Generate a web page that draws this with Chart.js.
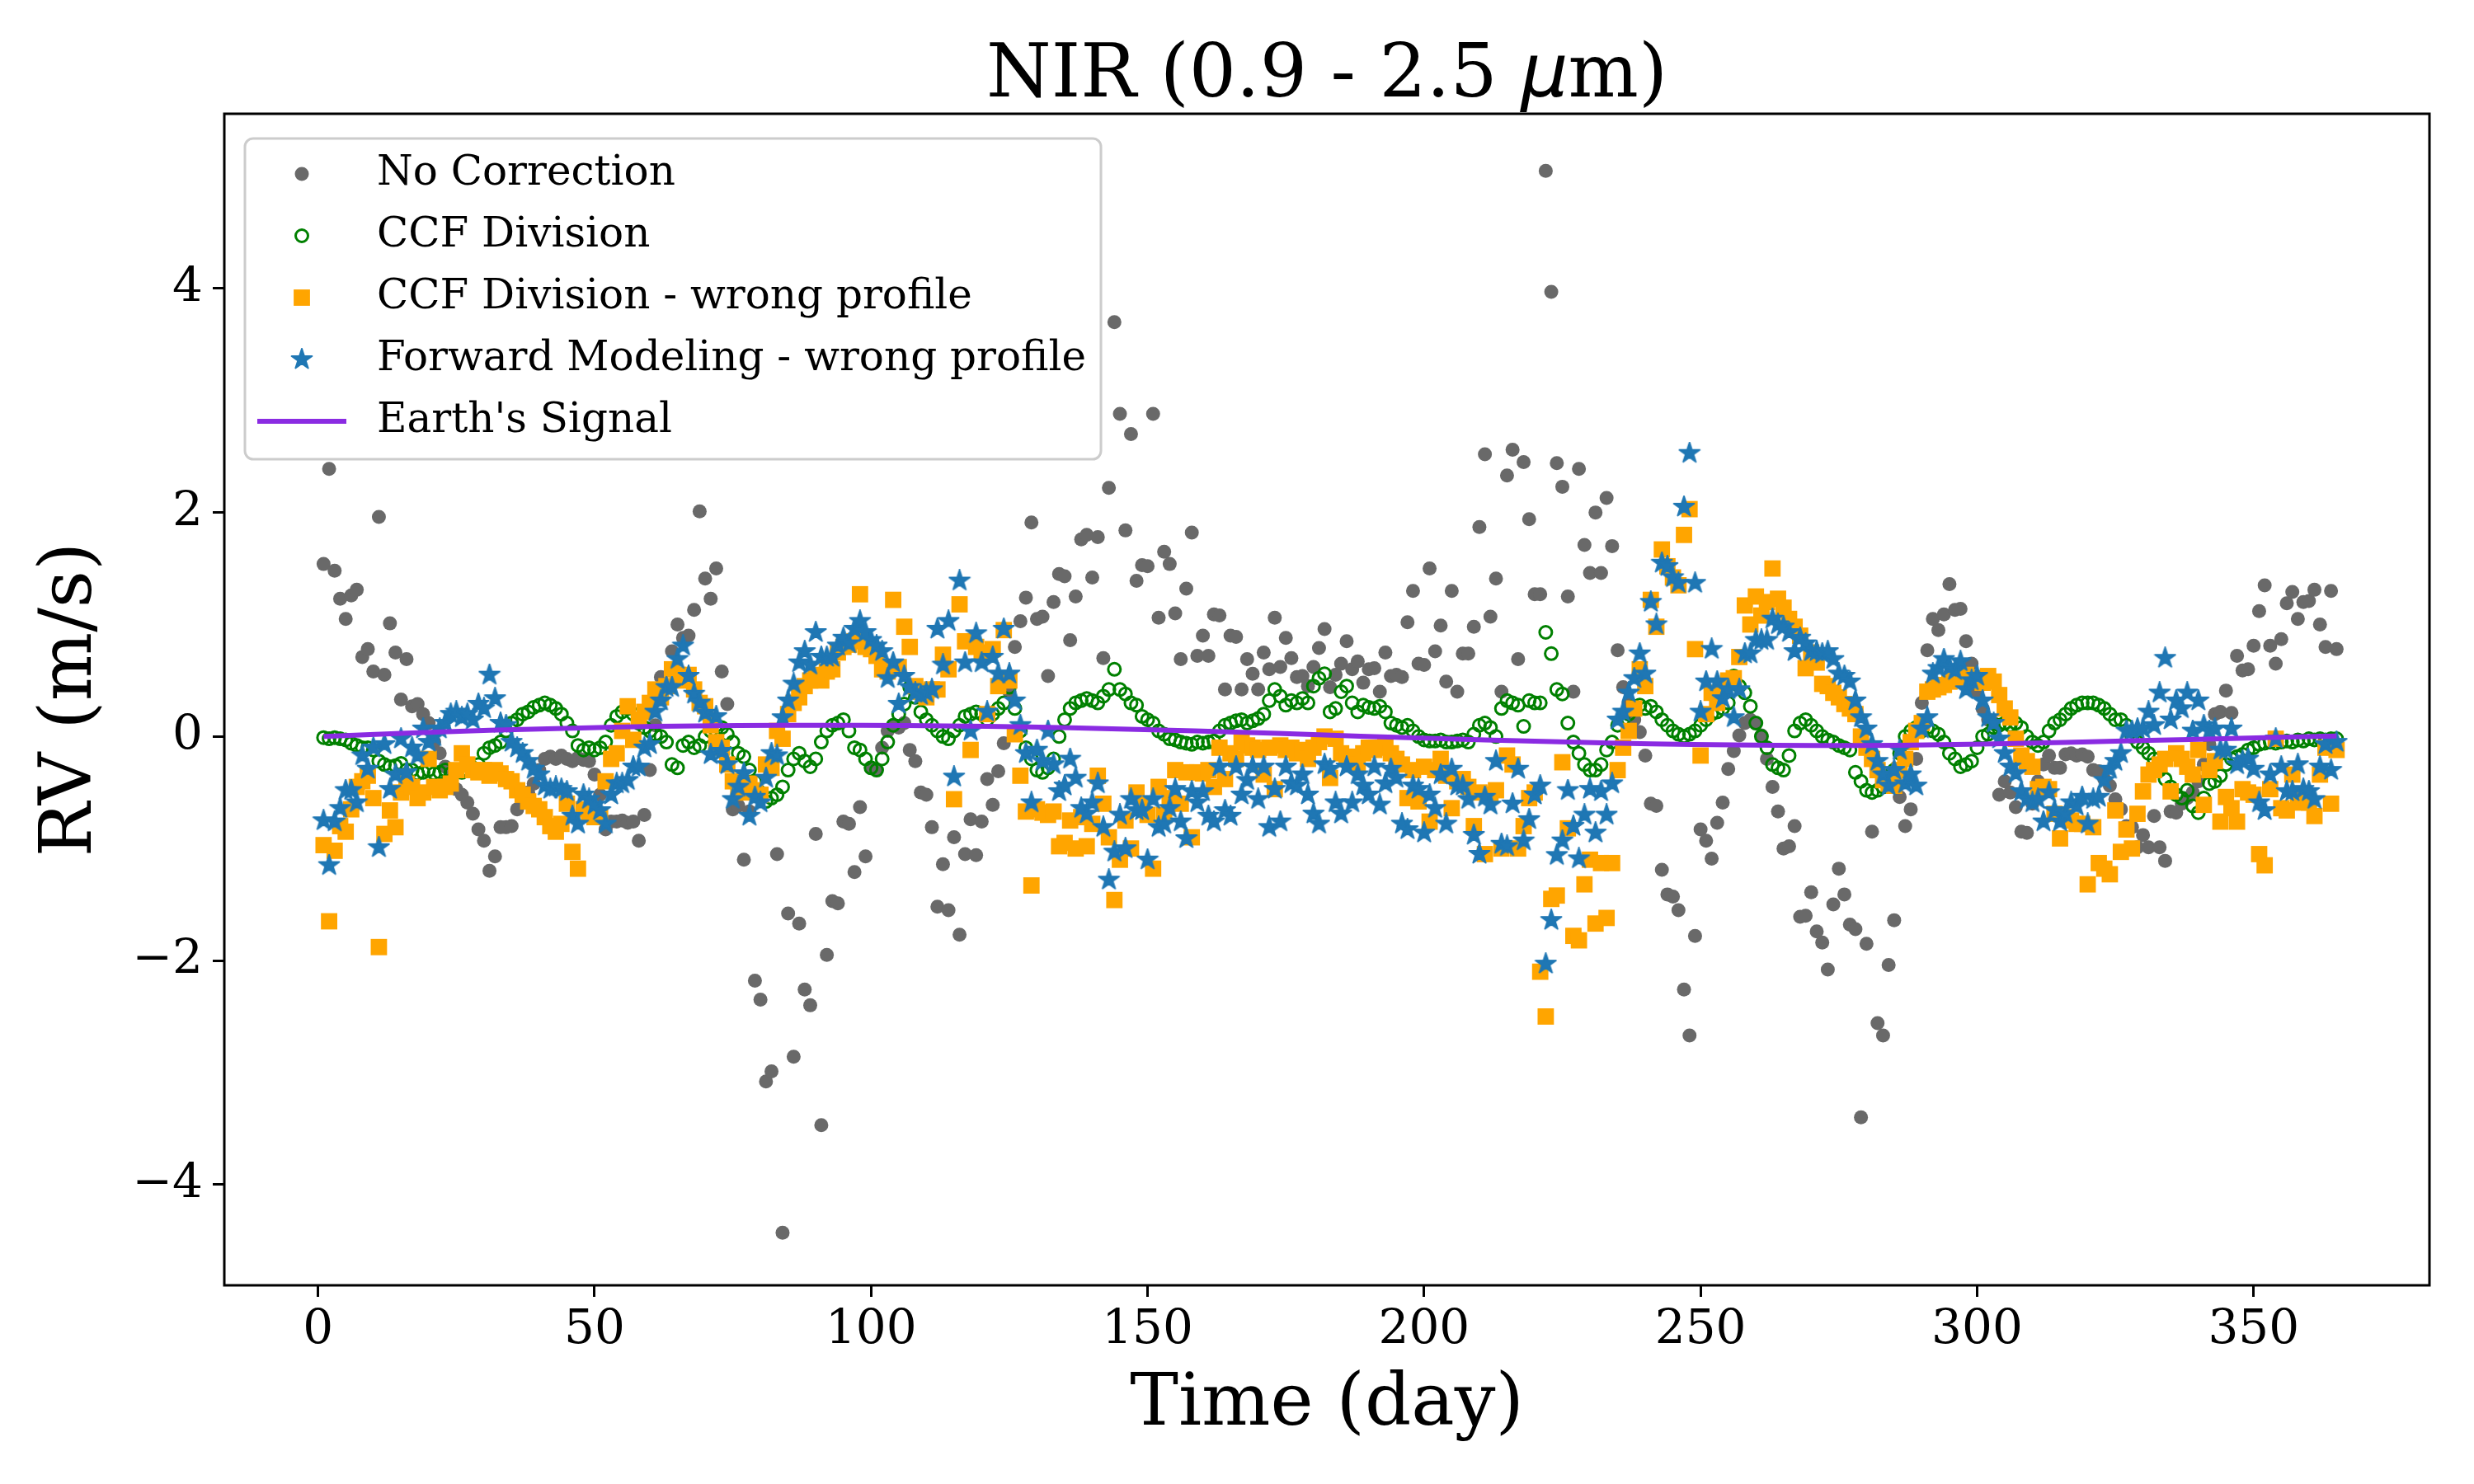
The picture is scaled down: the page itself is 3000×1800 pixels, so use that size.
<!DOCTYPE html>
<html>
<head>
<meta charset="utf-8">
<script src="https://cdn.jsdelivr.net/npm/chart.js@4.4.1/dist/chart.umd.min.js"></script>
<style>
  html, body { margin: 0; padding: 0; background: #fff; }
  #wrap { width: 3000px; height: 1800px; }
</style>
</head>
<body>
<div id="wrap"><canvas id="rv" width="3000" height="1800"></canvas></div>
<script>
// one value per day, starting at day 1 (m/s)
const noCorrection = [
  1.54, 2.39, 1.48, 1.23, 1.05, 1.26, 1.31, 0.71, 0.78, 0.58,
  1.96, 0.55, 1.01, 0.75, 0.33, 0.69, 0.27, 0.29, 0.20, 0.12,
  -0.05, -0.15, -0.27, -0.35, -0.47, -0.52, -0.59, -0.69, -0.83, -0.93,
  -1.20, -1.07, -0.81, -0.81, -0.80, -0.65, -0.58, -0.50, -0.42, -0.30,
  -0.20, -0.18, -0.20, -0.17, -0.20, -0.22, -0.19, -0.21, -0.22, -0.34,
  -0.52, -0.83, -0.76, -0.76, -0.75, -0.77, -0.76, -0.93, -0.70, -0.30,
  0.10, 0.53, 0.45, 0.76, 1.00, 0.88, 0.90, 1.13, 2.01, 1.41,
  1.23, 1.50, 0.58, 0.29, -0.65, -0.62, -1.10, -0.67, -2.18, -2.35,
  -3.08, -2.99, -1.05, -4.43, -1.58, -2.86, -1.67, -2.26, -2.40, -0.87,
  -3.47, -1.95, -1.47, -1.49, -0.76, -0.78, -1.21, -0.63, -1.07, -0.28,
  -0.30, -0.10, 0.05, 0.10, 0.08, 0.12, -0.12, -0.22, -0.50, -0.52,
  -0.81, -1.52, -1.14, -1.55, -0.90, -1.77, -1.05, -0.74, -1.06, -0.76,
  -0.38, -0.61, -0.31, -0.06, 0.40, 0.80, 1.03, 1.24, 1.91, 1.05,
  1.07, 0.54, 1.20, 1.45, 1.43, 0.86, 1.25, 1.76, 1.80, 1.42,
  1.78, 0.70, 2.22, 3.70, 2.88, 1.84, 2.70, 1.39, 1.53, 1.52,
  2.88, 1.06, 1.65, 1.54, 1.10, 0.69, 1.32, 1.82, 0.72, 0.90,
  0.72, 1.09, 1.08, 0.42, 0.90, 0.89, 0.42, 0.69, 0.56, 0.42,
  0.75, 0.60, 1.06, 0.62, 0.88, 0.70, 0.53, 0.54, 0.45, 0.62,
  0.79, 0.96, 0.44, 0.55, 0.65, 0.85, 0.60, 0.67, 0.48, 0.60,
  0.61, 0.40, 0.75, 0.54, 0.55, 0.53, 1.02, 1.30, 0.65, 0.64,
  1.50, 0.76, 0.99, 0.49, 1.30, 0.40, 0.74, 0.74, 0.98, 1.87,
  2.52, 1.07, 1.41, 0.40, 2.33, 2.56, 0.69, 2.45, 1.94, 1.27,
  1.27, 5.05, 3.97, 2.44, 2.23, 1.25, 0.40, 2.39, 1.71, 1.46,
  2.00, 1.46, 2.13, 1.70, 0.77, 0.44, 0.30, 0.15, 0.04, -0.17,
  -0.60, -0.62, -1.19, -1.41, -1.43, -1.55, -2.26, -2.67, -1.78, -0.83,
  -0.93, -1.09, -0.77, -0.59, -0.29, -0.13, 0.01, 0.12, 0.15, 0.12,
  0.01, -0.20, -0.45, -0.67, -1.00, -0.98, -0.80, -1.61, -1.60, -1.39,
  -1.74, -1.84, -2.08, -1.50, -1.18, -1.41, -1.68, -1.72, -3.40, -1.85,
  -0.85, -2.56, -2.67, -2.04, -1.64, -0.54, -0.80, -0.65, -0.20, 0.30,
  0.77, 1.05, 0.95, 1.09, 1.36, 1.13, 1.14, 0.85, 0.65, 0.40,
  0.25, 0.15, 0.12, -0.52, -0.40, -0.50, -0.63, -0.85, -0.86, -0.60,
  -0.40, -0.25, -0.17, -0.28, -0.28, -0.16, -0.15, -0.17, -0.16, -0.18,
  -0.30, -0.31, -0.38, -0.44, -0.56, -0.65, -0.80, -0.81, -0.99, -0.88,
  -0.99, -0.71, -0.99, -1.11, -0.67, -0.68, -0.60, -0.55, -0.50, -0.40,
  -0.25, -0.07, 0.20, 0.22, 0.41, 0.21, 0.72, 0.59, 0.60, 0.81,
  1.12, 1.35, 0.81, 0.65, 0.87, 1.19, 1.29, 1.05, 1.20, 1.21,
  1.31, 1.00, 0.80, 1.30, 0.78
];

const ccfDivision = [
  -0.01, -0.02, -0.01, -0.02, -0.03, -0.06, -0.08, -0.10, -0.10, -0.12,
  -0.22, -0.25, -0.27, -0.26, -0.24, -0.30, -0.30, -0.33, -0.32, -0.30,
  -0.33, -0.32, -0.30, -0.33, -0.30, -0.32, -0.30, -0.28, -0.25, -0.15,
  -0.10, -0.08, -0.05, 0.05, 0.12, 0.15, 0.20, 0.22, 0.26, 0.28,
  0.30, 0.28, 0.25, 0.20, 0.12, 0.05, -0.08, -0.12, -0.10, -0.12,
  -0.10, -0.05, 0.10, 0.18, 0.22, 0.25, 0.20, 0.12, 0.08, 0.05,
  0.02, 0.00, -0.05, -0.25, -0.28, -0.08, -0.05, -0.10, -0.08, 0.00,
  0.05, 0.10, 0.08, 0.02, -0.05, -0.15, -0.18, -0.30, -0.40, -0.50,
  -0.58, -0.55, -0.52, -0.45, -0.30, -0.20, -0.15, -0.22, -0.27, -0.20,
  -0.05, 0.05, 0.10, 0.12, 0.15, 0.05, -0.10, -0.12, -0.20, -0.28,
  -0.30, -0.20, -0.05, 0.10, 0.20, 0.29, 0.44, 0.35, 0.22, 0.15,
  0.10, 0.05, 0.00, -0.02, 0.05, 0.10, 0.18, 0.20, 0.22, 0.20,
  0.15, 0.20, 0.25, 0.30, 0.44, 0.25, 0.05, -0.10, -0.20, -0.30,
  -0.32, -0.28, -0.20, 0.00, 0.15, 0.25, 0.30, 0.32, 0.34, 0.32,
  0.30, 0.36, 0.42, 0.60, 0.42, 0.38, 0.30, 0.28, 0.18, 0.15,
  0.12, 0.05, 0.02, -0.02, -0.03, -0.05, -0.06, -0.07, -0.05, -0.06,
  -0.05, -0.04, 0.05, 0.10, 0.12, 0.14, 0.15, 0.12, 0.14, 0.16,
  0.20, 0.32, 0.42, 0.36, 0.28, 0.32, 0.30, 0.34, 0.30, 0.45,
  0.52, 0.56, 0.22, 0.25, 0.40, 0.45, 0.30, 0.22, 0.28, 0.26,
  0.25, 0.27, 0.22, 0.12, 0.10, 0.08, 0.10, 0.05, 0.00, -0.03,
  -0.04, -0.04, -0.03, -0.05, -0.05, -0.04, -0.03, -0.05, 0.02, 0.10,
  0.12, 0.08, 0.00, 0.25, 0.32, 0.30, 0.28, 0.09, 0.32, 0.30,
  0.30, 0.93, 0.74, 0.42, 0.38, 0.12, -0.05, -0.15, -0.25, -0.30,
  -0.30, -0.25, -0.12, -0.05, 0.10, 0.15, 0.20, 0.27, 0.28, 0.25,
  0.27, 0.22, 0.15, 0.10, 0.05, 0.02, 0.00, 0.02, 0.05, 0.10,
  0.15, 0.20, 0.22, 0.25, 0.30, 0.54, 0.45, 0.39, 0.27, 0.12,
  0.00, -0.10, -0.25, -0.28, -0.30, -0.17, 0.05, 0.12, 0.15, 0.10,
  0.05, 0.00, -0.03, -0.05, -0.08, -0.10, -0.12, -0.32, -0.40, -0.48,
  -0.50, -0.48, -0.45, -0.35, -0.30, -0.15, 0.00, 0.05, 0.08, 0.05,
  0.08, 0.05, 0.02, -0.05, -0.15, -0.20, -0.27, -0.25, -0.22, -0.10,
  0.00, 0.02, 0.08, 0.10, 0.12, 0.10, 0.12, 0.08, 0.00, -0.05,
  -0.08, -0.05, 0.05, 0.12, 0.15, 0.20, 0.25, 0.28, 0.30, 0.30,
  0.30, 0.28, 0.25, 0.20, 0.15, 0.15, 0.10, 0.00, -0.05, -0.10,
  -0.15, -0.20, -0.30, -0.38, -0.45, -0.52, -0.55, -0.48, -0.62, -0.68,
  -0.55, -0.42, -0.40, -0.35, -0.25, -0.20, -0.18, -0.16, -0.12, -0.10,
  -0.07, -0.06, -0.05, -0.06, -0.05, -0.04, -0.05, -0.03, -0.04, -0.02,
  -0.03, -0.02, -0.03, -0.02, -0.02
];

const ccfWrongProfile = [
  -0.97, -1.65, -1.02, -0.80, -0.85, -0.65, -0.45, -0.40, -0.35, -0.55,
  -1.88, -0.87, -0.66, -0.81, -0.50, -0.42, -0.45, -0.55, -0.50, -0.20,
  -0.45, -0.48, -0.45, -0.42, -0.30, -0.15, -0.25, -0.30, -0.32, -0.30,
  -0.35, -0.30, -0.33, -0.38, -0.40, -0.48, -0.52, -0.58, -0.62, -0.65,
  -0.72, -0.80, -0.85, -0.78, -0.60, -1.03, -1.18, -0.65, -0.68, -0.72,
  -0.70, -0.40, -0.20, -0.15, 0.05, 0.27, -0.03, 0.15, 0.22, 0.30,
  0.42, 0.35, 0.45, 0.60, 0.55, 0.50, 0.55, 0.42, 0.30, 0.27,
  0.10, -0.05, -0.10, -0.25, -0.40, -0.45, -0.50, -0.42, -0.48, -0.52,
  -0.25, -0.28, 0.05, -0.02, 0.20, 0.30, 0.35, 0.45, 0.50, 0.55,
  0.50, 0.58, 0.60, 0.75, 0.80, 0.82, 0.85, 1.27, 0.80, 0.78,
  0.72, 0.60, 0.58, 1.22, 0.62, 0.98, 0.80, 0.45, 0.40, 0.35,
  0.42, 0.42, 0.73, 0.60, -0.56, 1.18, 0.85, -0.12, 0.80, 0.75,
  0.20, 0.78, 0.45, 0.95, 0.50, 0.02, -0.35, -0.67, -1.33, -0.65,
  -0.68, -0.70, -0.67, -0.98, -0.95, -0.75, -1.00, -0.72, -0.98, -0.78,
  -0.35, -0.60, -0.90, -1.46, -1.10, -0.75, -1.00, -0.50, -0.60, -0.70,
  -1.18, -0.45, -0.70, -0.55, -0.30, -0.60, -0.32, -0.90, -0.32, -0.33,
  -0.30, -0.45, -0.10, -0.38, -0.15, -0.20, -0.05, -0.08, -0.10, -0.12,
  -0.34, -0.10, -0.47, -0.08, -0.12, -0.10, -0.15, -0.12, -0.20, -0.10,
  -0.05, 0.00, -0.37, -0.02, -0.15, -0.20, -0.18, -0.25, -0.15, -0.10,
  -0.12, -0.10, -0.08, -0.15, -0.20, -0.25, -0.55, -0.30, -0.58, -0.27,
  -0.76, -0.30, -0.20, -0.35, -0.64, -0.40, -0.38, -0.45, -0.80, -0.50,
  -1.05, -0.52, -0.48, -1.00, -0.17, -0.25, -1.00, -0.80, -0.55, -0.50,
  -2.10, -2.50, -1.45, -1.42, -0.23, -0.82, -1.78, -1.82, -1.32, -1.10,
  -1.67, -1.13, -1.62, -1.13, -0.30, -0.10, 0.05, 0.25, 0.60, 0.45,
  1.22, 0.98, 1.67, 1.52, 1.42, 1.35, 1.80, 2.03, 0.78, -0.17,
  0.20, 0.39, 0.30, 0.45, 0.50, 0.52, 0.71, 1.17, 1.00, 1.25,
  1.08, 1.20, 1.50, 1.23, 1.15, 1.05, 0.98, 0.90, 0.61, 0.75,
  0.66, 0.47, 0.45, 0.39, 0.35, 0.29, 0.25, 0.20, 0.00, -0.10,
  -0.20, -0.30, -0.39, -0.42, -0.44, -0.30, -0.20, -0.05, 0.05, 0.12,
  0.40, 0.42, 0.44, 0.46, 0.49, 0.50, 0.52, 0.55, 0.50, 0.52,
  0.48, 0.54, 0.49, 0.37, 0.25, 0.17, -0.02, -0.17, -0.22, -0.27,
  -0.47, -0.45, -0.47, -0.69, -0.91, -0.72, -0.75, -0.78, -0.78, -1.32,
  -0.81, -1.13, -1.18, -1.23, -0.66, -1.03, -0.83, -1.00, -0.69, -0.49,
  -0.34, -0.30, -0.25, -0.20, -0.49, -0.15, -0.20, -0.27, -0.34, -0.12,
  -0.61, -0.30, -0.22, -0.76, -0.54, -0.64, -0.76, -0.47, -0.50, -0.52,
  -1.05, -1.15, -0.47, -0.02, -0.64, -0.66, -0.34, -0.59, -0.55, -0.59,
  -0.71, -0.34, -0.10, -0.60, -0.12
];

const fmWrongProfile = [
  -0.75, -1.15, -0.76, -0.64, -0.48, -0.48, -0.59, -0.17, -0.29, -0.10,
  -0.99, -0.07, -0.47, -0.34, -0.02, -0.32, -0.10, -0.17, 0.07, -0.05,
  0.00, 0.07, 0.12, 0.20, 0.22, 0.17, 0.20, 0.15, 0.29, 0.25,
  0.55, 0.34, 0.12, 0.10, -0.05, -0.10, -0.15, -0.22, -0.29, -0.34,
  -0.44, -0.47, -0.45, -0.47, -0.49, -0.71, -0.78, -0.52, -0.56, -0.61,
  -0.66, -0.78, -0.52, -0.42, -0.42, -0.39, -0.27, -0.27, -0.10, -0.07,
  0.22, 0.32, 0.44, 0.44, 0.69, 0.81, 0.54, 0.38, 0.30, 0.21,
  -0.16, 0.18, -0.13, -0.25, -0.56, -0.45, -0.33, -0.71, -0.54, -0.59,
  -0.37, -0.15, -0.17, 0.17, 0.32, 0.47, 0.66, 0.76, 0.64, 0.93,
  0.71, 0.71, 0.71, 0.81, 0.88, 0.83, 0.96, 1.03, 0.93, 0.86,
  0.81, 0.76, 0.52, 0.66, 0.29, 0.54, 0.44, 0.39, 0.37, 0.39,
  0.42, 0.96, 0.64, 1.03, -0.36, 1.39, 0.66, 0.05, 0.92, 0.66,
  0.22, 0.71, 0.56, 0.96, 0.56, 0.32, 0.10, -0.15, -0.59, -0.12,
  -0.22, 0.05, -0.25, -0.49, -0.44, -0.20, -0.37, -0.64, -0.69, -0.59,
  -0.42, -0.81, -1.28, -1.03, -0.70, -1.00, -0.56, -0.66, -0.66, -1.10,
  -0.56, -0.81, -0.78, -0.64, -0.47, -0.76, -0.91, -0.49, -0.59, -0.49,
  -0.71, -0.76, -0.27, -0.66, -0.71, -0.27, -0.52, -0.39, -0.27, -0.56,
  -0.27, -0.81, -0.47, -0.76, -0.27, -0.42, -0.44, -0.34, -0.52, -0.69,
  -0.78, -0.25, -0.29, -0.59, -0.69, -0.27, -0.59, -0.34, -0.44, -0.52,
  -0.27, -0.61, -0.42, -0.29, -0.37, -0.78, -0.83, -0.44, -0.47, -0.86,
  -0.52, -0.64, -0.34, -0.78, -0.29, -0.44, -0.44, -0.56, -0.88, -1.05,
  -0.54, -0.61, -0.22, -0.96, -0.98, -0.60, -0.29, -0.93, -0.74, -0.52,
  -0.44, -2.03, -1.64, -1.06, -0.93, -0.48, -0.80, -1.09, -0.70, -0.47,
  -0.86, -0.49, -0.70, -0.42, 0.15, 0.22, 0.39, 0.52, 0.74, 0.56,
  1.20, 1.00, 1.55, 1.52, 1.42, 1.37, 2.05, 2.53, 1.37, 0.22,
  0.49, 0.78, 0.49, 0.34, 0.42, 0.17, 0.42, 0.74, 0.74, 0.86,
  0.86, 0.86, 1.05, 1.00, 0.98, 0.93, 0.76, 0.88, 0.83, 0.76,
  0.76, 0.74, 0.76, 0.69, 0.56, 0.54, 0.49, 0.32, 0.17, 0.07,
  -0.07, -0.22, -0.34, -0.44, -0.30, -0.12, -0.42, -0.34, -0.44, 0.07,
  0.17, 0.56, 0.61, 0.69, 0.62, 0.59, 0.67, 0.42, 0.50, 0.54,
  0.32, 0.17, 0.12, -0.02, -0.15, -0.27, -0.33, -0.49, -0.56, -0.59,
  -0.56, -0.76, -0.50, -0.66, -0.76, -0.69, -0.59, -0.62, -0.54, -0.78,
  -0.56, -0.54, -0.39, -0.29, -0.22, -0.15, 0.05, 0.05, 0.07, 0.07,
  0.22, 0.10, 0.39, 0.70, 0.15, 0.32, 0.25, 0.39, 0.05, 0.32,
  0.10, 0.05, 0.07, -0.12, -0.12, 0.07, -0.25, -0.22, -0.20, -0.29,
  -0.59, -0.66, -0.34, -0.02, -0.27, -0.49, -0.49, -0.25, -0.47, -0.49,
  -0.56, -0.27, -0.07, -0.30, -0.05
];

// Earth's reflex signal, sampled along the curve
const earthDays = [1, 16, 31, 46, 61, 76, 91, 106, 121, 136, 151, 166, 181, 196, 211, 226, 241, 256, 271, 286, 301, 316, 331, 346, 361, 365];
const earthSignal = [0.0, 0.03, 0.055, 0.075, 0.09, 0.098, 0.1, 0.098, 0.09, 0.078, 0.06, 0.04, 0.015, -0.008, -0.03, -0.05, -0.065, -0.075, -0.08, -0.078, -0.068, -0.052, -0.035, -0.018, 0.0, 0.005];

const xTicks = [0, 50, 100, 150, 200, 250, 300, 350];
const yTicks = [-4, -2, 0, 2, 4];
const firstDay = 1;

const SERIF = "'DejaVu Serif', 'Liberation Serif', serif";

function toPoints(values) {
  return values.map((v, i) => ({ x: firstDay + i, y: v }));
}

// matplotlib-like filled '*' marker
function makeStar(r, color) {
  const size = Math.ceil(r * 2 + 2);
  const c = document.createElement('canvas');
  c.width = size;
  c.height = size;
  const g = c.getContext('2d');
  const inner = r * 0.382;
  g.beginPath();
  for (let k = 0; k < 10; k++) {
    const rad = k % 2 === 0 ? r : inner;
    const a = -Math.PI / 2 + k * Math.PI / 5;
    const px = size / 2 + rad * Math.cos(a);
    const py = size / 2 + rad * Math.sin(a);
    if (k === 0) g.moveTo(px, py); else g.lineTo(px, py);
  }
  g.closePath();
  g.fillStyle = color;
  g.fill();
  g.lineJoin = 'round';
  g.lineWidth = 2;
  g.strokeStyle = color;
  g.stroke();
  return c;
}

const starImg = makeStar(13, '#1f77b4');

// frame around the axes
const framePlugin = {
  id: 'frame',
  afterDraw(chart) {
    const { ctx, chartArea: a } = chart;
    ctx.save();
    ctx.strokeStyle = '#000';
    ctx.lineWidth = 3;
    ctx.strokeRect(a.left, a.top, a.right - a.left, a.bottom - a.top);
    ctx.restore();
  }
};

// title with the italic mu
const titlePlugin = {
  id: 'nirTitle',
  afterDraw(chart) {
    const { ctx, chartArea: a } = chart;
    const parts = [
      { t: 'NIR (0.9 - 2.5 ', f: `90px ${SERIF}` },
      { t: 'μ', f: `oblique 90px 'DejaVu Sans', sans-serif` },
      { t: 'm)', f: `90px ${SERIF}` }
    ];
    ctx.save();
    ctx.fillStyle = '#000';
    ctx.textBaseline = 'alphabetic';
    let total = 0;
    parts.forEach(p => { ctx.font = p.f; p.w = ctx.measureText(p.t).width; total += p.w; });
    let x = (a.left + a.right) / 2 - total / 2;
    parts.forEach(p => { ctx.font = p.f; ctx.fillText(p.t, x, 117); x += p.w; });
    ctx.restore();
  }
};

// legend box in the upper left, drawn like matplotlib's
const legendPlugin = {
  id: 'mplLegend',
  afterDraw(chart) {
    const { ctx } = chart;
    const box = { x: 297, y: 168, w: 1038, h: 389, r: 10 };
    ctx.save();
    ctx.beginPath();
    ctx.roundRect(box.x, box.y, box.w, box.h, box.r);
    ctx.fillStyle = 'rgba(255,255,255,0.8)';
    ctx.fill();
    ctx.strokeStyle = '#cccccc';
    ctx.lineWidth = 3;
    ctx.stroke();

    const rowY = [211, 286, 361, 436, 511];
    const mx = 366;
    const tx = 457;
    chart.data.datasets.forEach((ds, i) => {
      const y = rowY[i];
      ctx.save();
      if (ds.legendKind === 'dot') {
        ctx.beginPath();
        ctx.arc(mx, y, ds.pointRadius, 0, Math.PI * 2);
        ctx.fillStyle = ds.backgroundColor;
        ctx.fill();
      } else if (ds.legendKind === 'ring') {
        ctx.beginPath();
        ctx.arc(mx, y, ds.pointRadius, 0, Math.PI * 2);
        ctx.strokeStyle = ds.borderColor;
        ctx.lineWidth = ds.borderWidth;
        ctx.stroke();
      } else if (ds.legendKind === 'square') {
        const s = ds.pointRadius * Math.SQRT1_2;
        ctx.fillStyle = ds.backgroundColor;
        ctx.fillRect(mx - s, y - s, 2 * s, 2 * s);
      } else if (ds.legendKind === 'star') {
        ctx.drawImage(starImg, mx - starImg.width / 2, y - starImg.height / 2);
      } else {
        ctx.beginPath();
        ctx.moveTo(312, y);
        ctx.lineTo(420, y);
        ctx.strokeStyle = ds.borderColor;
        ctx.lineWidth = ds.borderWidth;
        ctx.stroke();
      }
      ctx.restore();
      ctx.fillStyle = '#000';
      ctx.font = `50px ${SERIF}`;
      ctx.textBaseline = 'middle';
      ctx.fillText(ds.label, tx, y);
    });
    ctx.restore();
  }
};

const fmtTick = v => (v < 0 ? '\u2212' + Math.abs(v) : String(v));

new Chart(document.getElementById('rv'), {
  type: 'scatter',
  data: {
    datasets: [
      {
        label: 'No Correction', legendKind: 'dot', order: 5,
        data: toPoints(noCorrection),
        pointStyle: 'circle', pointRadius: 8.5, borderWidth: 0,
        backgroundColor: '#696969', borderColor: '#696969'
      },
      {
        label: 'CCF Division', legendKind: 'ring', order: 4,
        data: toPoints(ccfDivision),
        pointStyle: 'circle', pointRadius: 7.5, borderWidth: 3,
        backgroundColor: 'rgba(0,0,0,0)', borderColor: '#008000'
      },
      {
        label: 'CCF Division - wrong profile', legendKind: 'square', order: 3,
        data: toPoints(ccfWrongProfile),
        pointStyle: 'rect', pointRadius: 14, borderWidth: 0,
        backgroundColor: '#ffa500', borderColor: '#ffa500'
      },
      {
        label: 'Forward Modeling - wrong profile', legendKind: 'star', order: 2,
        data: toPoints(fmWrongProfile),
        pointStyle: starImg, pointRadius: 12, borderWidth: 0,
        backgroundColor: '#1f77b4', borderColor: '#1f77b4'
      },
      {
        label: "Earth's Signal", legendKind: 'line', order: 1,
        type: 'line',
        data: earthDays.map((d, i) => ({ x: d, y: earthSignal[i] })),
        borderColor: '#8a2be2', borderWidth: 6, pointRadius: 0,
        tension: 0.3, fill: false
      }
    ]
  },
  options: {
    responsive: false,
    devicePixelRatio: 1,
    animation: false,
    events: [],
    layout: { padding: { left: 0, right: 54, top: 138, bottom: 0 } },
    plugins: { legend: { display: false }, title: { display: false }, tooltip: { enabled: false } },
    scales: {
      x: {
        type: 'linear',
        min: -16.95,
        max: 381.8,
        afterBuildTicks: s => { s.ticks = xTicks.map(v => ({ value: v })); },
        afterFit: s => { s.height = 241; },
        border: { display: false },
        grid: { drawOnChartArea: false, drawTicks: true, tickLength: 14, tickWidth: 3, tickColor: '#000' },
        ticks: { color: '#000', padding: 6, font: { family: SERIF, size: 58 }, maxRotation: 0, callback: v => fmtTick(v) },
        title: { display: true, text: 'Time (day)', color: '#000', font: { family: SERIF, size: 88 }, padding: { top: 0, bottom: 42 } }
      },
      y: {
        type: 'linear',
        min: -4.9,
        max: 5.56,
        afterBuildTicks: s => { s.ticks = yTicks.map(v => ({ value: v })); },
        afterFit: s => { s.width = 272; },
        border: { display: false },
        grid: { drawOnChartArea: false, drawTicks: true, tickLength: 14, tickWidth: 3, tickColor: '#000' },
        ticks: { color: '#000', padding: 12, font: { family: SERIF, size: 58 }, callback: v => fmtTick(v) },
        title: { display: true, text: 'RV (m/s)', color: '#000', font: { family: SERIF, size: 88 }, padding: { top: 34, bottom: 0 } }
      }
    }
  },
  plugins: [framePlugin, titlePlugin, legendPlugin]
});
</script>
</body>
</html>
